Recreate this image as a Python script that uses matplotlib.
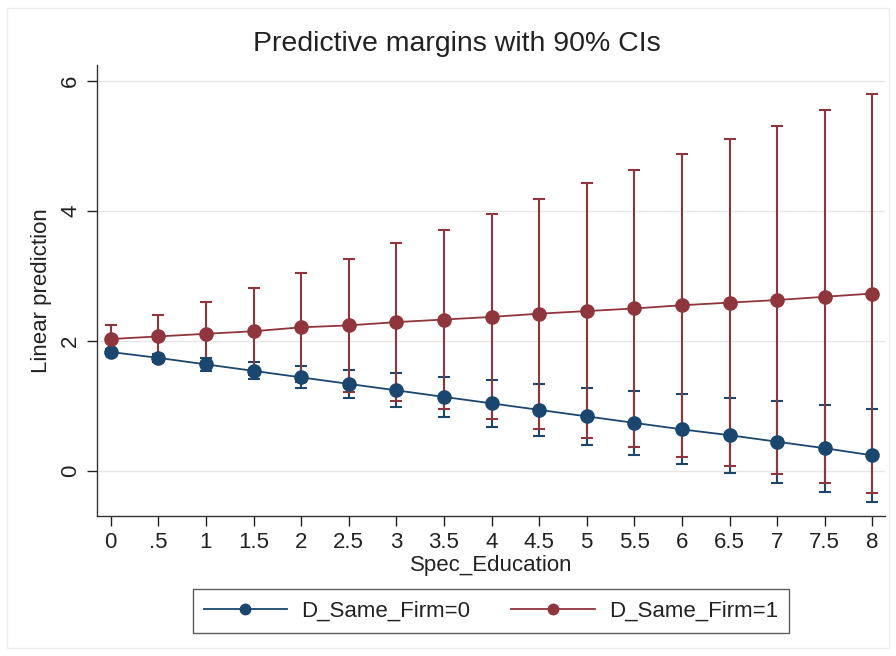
import matplotlib.pyplot as plt
from matplotlib.patches import Rectangle

plt.rcParams["font.family"] = ["Liberation Sans", "DejaVu Sans"]

# Spec_Education values and predictive margins
spec_edu = [0, 0.5, 1, 1.5, 2, 2.5, 3, 3.5, 4, 4.5, 5, 5.5, 6, 6.5, 7, 7.5, 8]
tick_labels = ["0", ".5", "1", "1.5", "2", "2.5", "3", "3.5", "4",
               "4.5", "5", "5.5", "6", "6.5", "7", "7.5", "8"]

firm0_mid = [1.83, 1.74, 1.64, 1.54, 1.44, 1.34, 1.24, 1.14, 1.04,
             0.94, 0.84, 0.74, 0.64, 0.55, 0.45, 0.35, 0.24]
firm0_lo = [1.79, 1.68, 1.54, 1.41, 1.27, 1.12, 0.98, 0.83, 0.68,
            0.54, 0.40, 0.25, 0.10, -0.03, -0.18, -0.32, -0.47]
firm0_hi = [1.87, 1.80, 1.74, 1.67, 1.61, 1.56, 1.50, 1.45, 1.40,
            1.34, 1.28, 1.23, 1.18, 1.13, 1.08, 1.02, 0.95]

firm1_mid = [2.03, 2.07, 2.11, 2.15, 2.21, 2.24, 2.29, 2.33, 2.37,
             2.42, 2.46, 2.50, 2.55, 2.59, 2.63, 2.68, 2.73]
firm1_lo = [1.82, 1.74, 1.62, 1.48, 1.37, 1.22, 1.08, 0.95, 0.80,
            0.65, 0.51, 0.37, 0.22, 0.08, -0.05, -0.19, -0.34]
firm1_hi = [2.24, 2.40, 2.60, 2.82, 3.05, 3.26, 3.50, 3.71, 3.95,
            4.19, 4.43, 4.63, 4.88, 5.10, 5.31, 5.55, 5.80]

navy = "#1a476f"
maroon = "#90353b"
txt = "#222222"

fig = plt.figure(figsize=(8.96, 6.56), dpi=100)
fig.patches.append(Rectangle((7 / 896, 8 / 656), 882 / 896, 640 / 656,
                             transform=fig.transFigure, fill=False,
                             edgecolor="#ececec", lw=1.0))
ax = fig.add_axes([0.1083, 0.2139, 0.8794, 0.6870])

series = [
    (firm0_mid, firm0_lo, firm0_hi, navy, "D_Same_Firm=0"),
    (firm1_mid, firm1_lo, firm1_hi, maroon, "D_Same_Firm=1"),
]

# confidence intervals first, lines and markers on top
for mid, lo, hi, col, lab in series:
    yerr = [[m - l for m, l in zip(mid, lo)], [h - m for m, h in zip(mid, hi)]]
    ax.errorbar(spec_edu, mid, yerr=yerr, fmt="none", ecolor=col,
                elinewidth=1.5, capsize=4.5, capthick=1.5, zorder=2)

handles = []
for mid, lo, hi, col, lab in series:
    h, = ax.plot(spec_edu, mid, "-o", color=col, lw=1.3, markersize=9.5,
                 zorder=3, label=lab)
    handles.append(h)

ax.set_xlim(-0.144, 8.133)
ax.set_ylim(-0.688, 6.246)
ax.set_xticks(spec_edu)
ax.set_xticklabels(tick_labels)
ax.set_yticks([0, 2, 4, 6])
ax.set_yticklabels(["0", "2", "4", "6"], rotation=90, va="center")
ax.tick_params(axis="both", labelsize=16, length=7.5, width=1.0,
               colors=txt, pad=4)
ax.grid(axis="y", color="#e6e6e6", lw=1.0)
ax.set_axisbelow(True)
for s in ["top", "right"]:
    ax.spines[s].set_visible(False)
for s in ["left", "bottom"]:
    ax.spines[s].set_color("#333333")
    ax.spines[s].set_linewidth(1.0)

ax.set_xlabel("Spec_Education", fontsize=16, color=txt, labelpad=2)
ax.set_ylabel("Linear prediction", fontsize=16, color=txt, labelpad=6)
fig.text(457 / 896, 1 - 44 / 656, "Predictive margins with 90% CIs",
         fontsize=20.5, color=txt, ha="center", va="center")

leg_handles = [plt.Line2D([], [], color=h.get_color(), lw=1.3, marker="o",
                          markersize=7.5) for h in handles]
leg = fig.legend(leg_handles, [h.get_label() for h in handles], ncol=2,
                 loc="center", bbox_to_anchor=(491 / 896, 1 - 611 / 656),
                 fontsize=16, frameon=True, fancybox=False,
                 handlelength=3.75, handletextpad=0.64, columnspacing=1.85,
                 borderpad=0.5, labelcolor=txt)
leg.get_frame().set_edgecolor("#333333")
leg.get_frame().set_linewidth(1.0)

plt.savefig("out.png", dpi=100)
